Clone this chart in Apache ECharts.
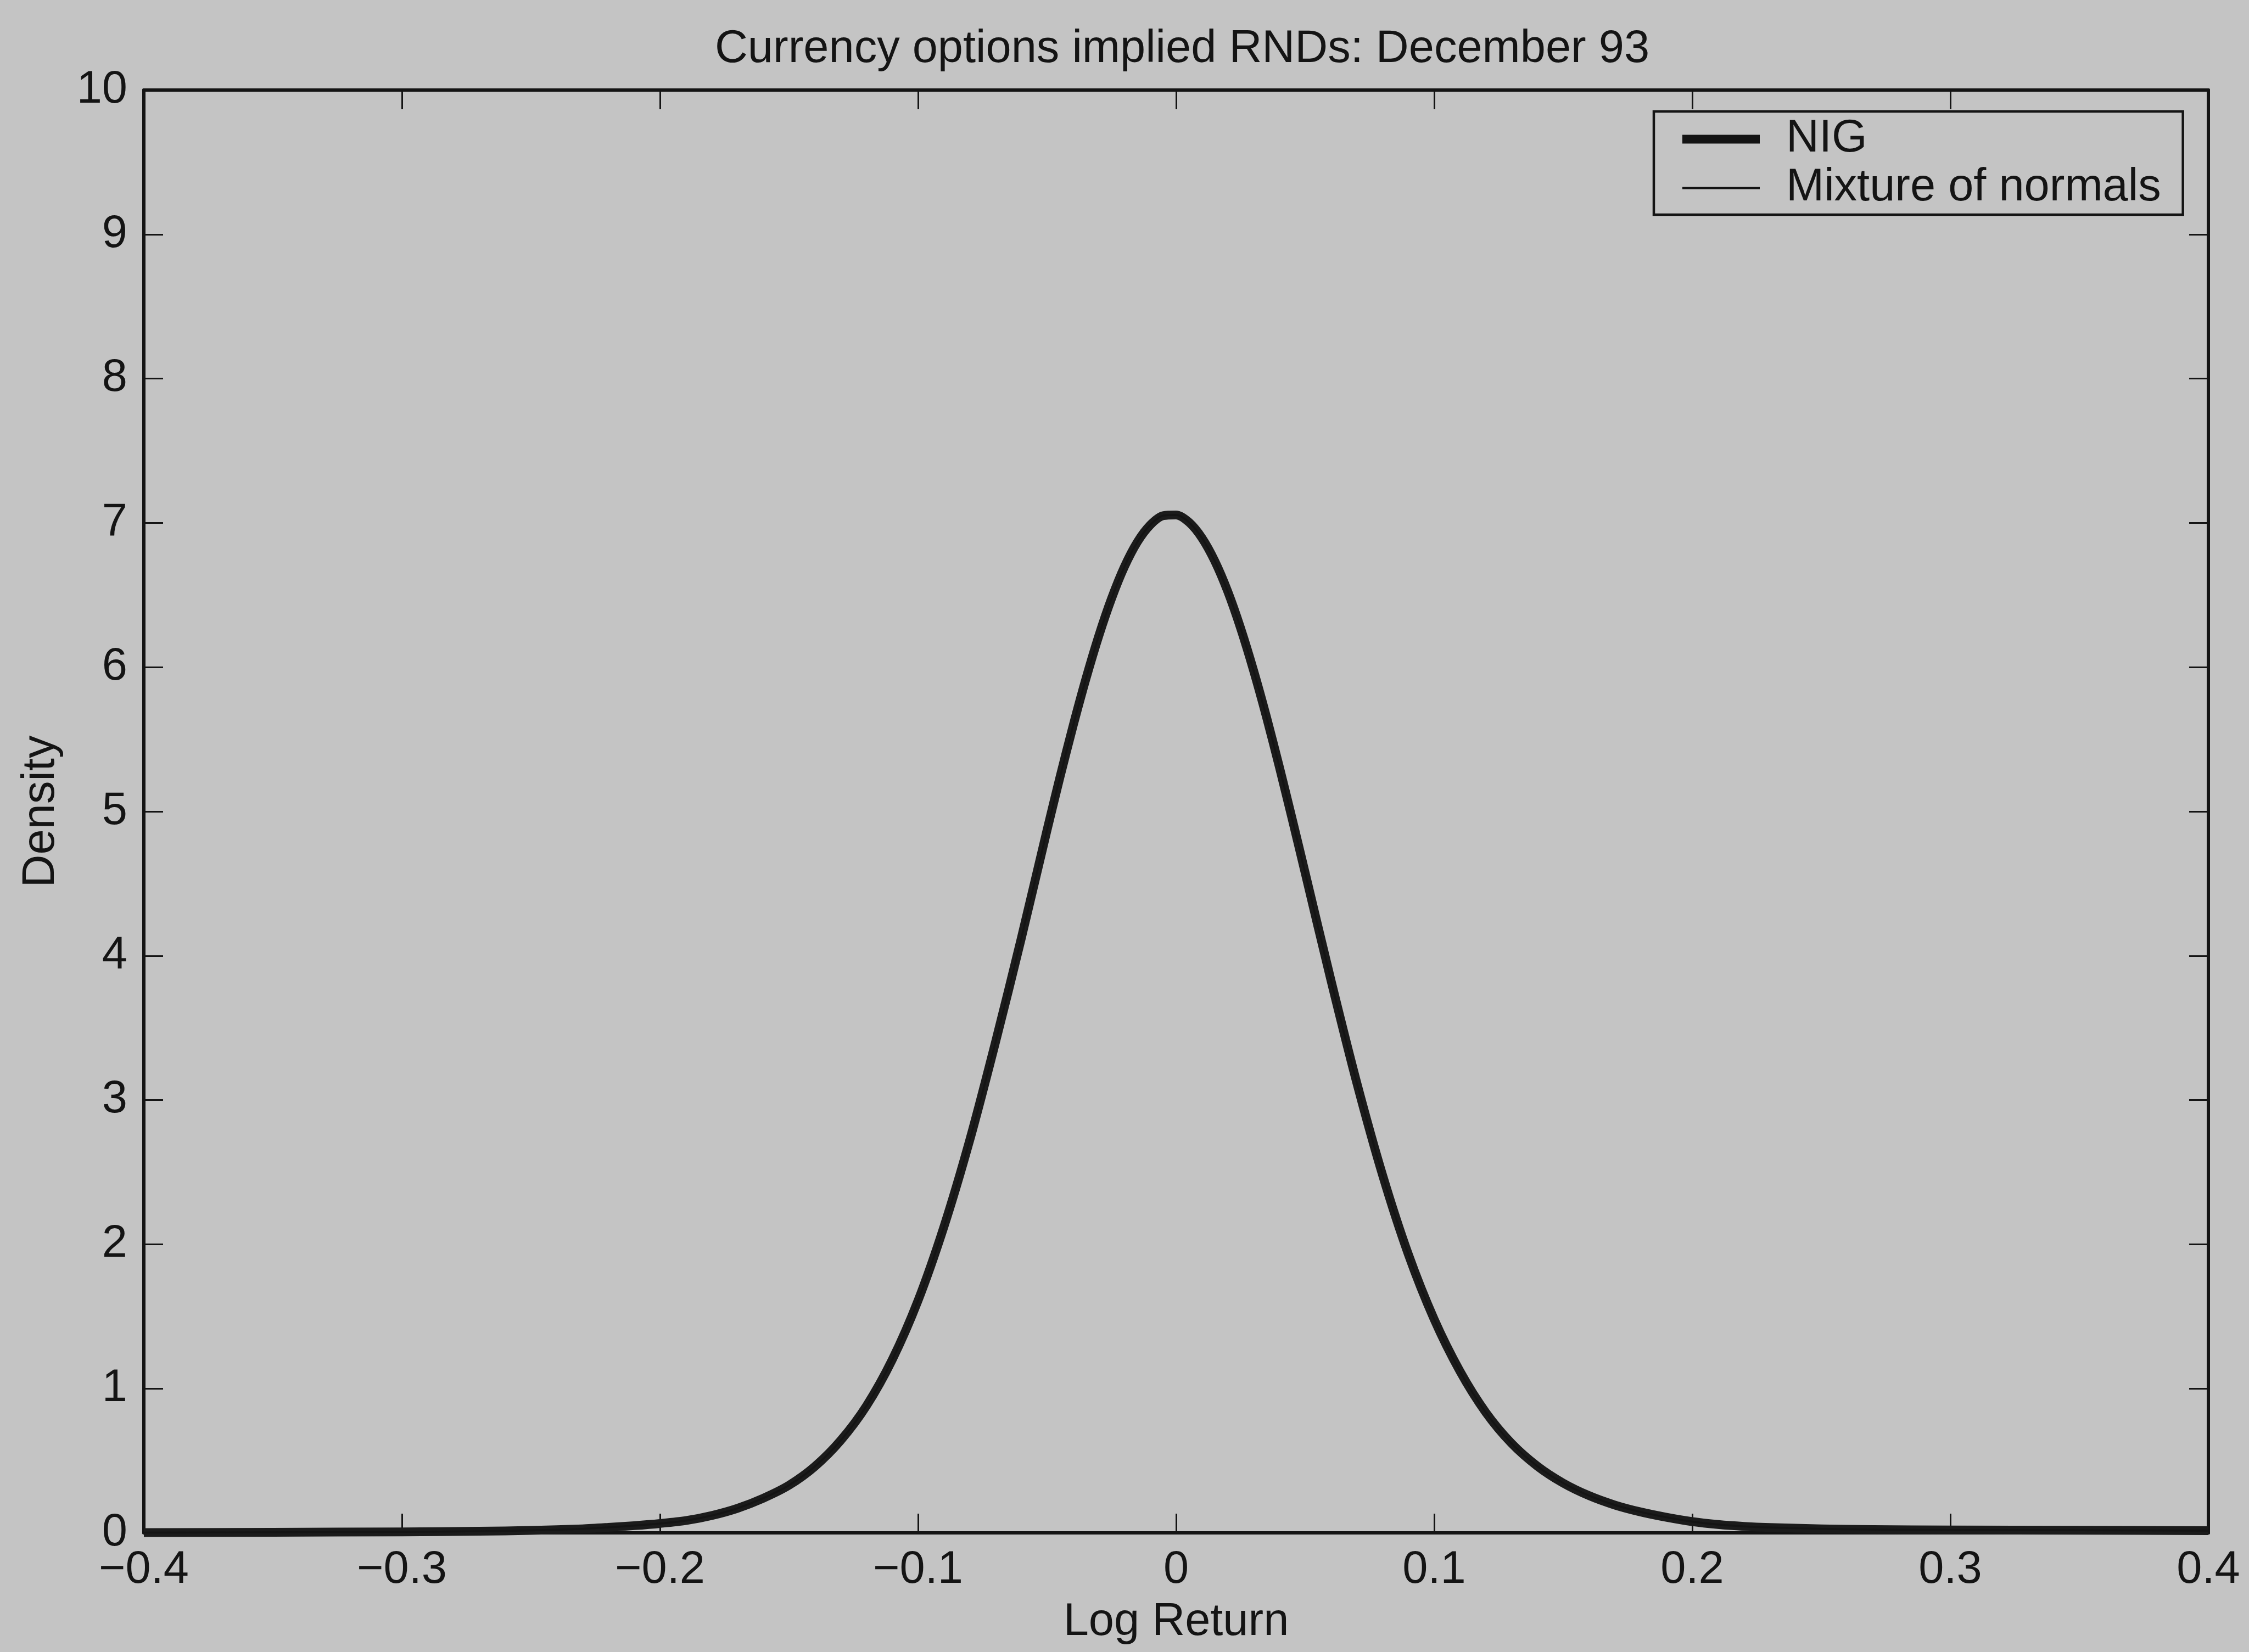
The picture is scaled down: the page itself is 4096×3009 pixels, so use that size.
<!DOCTYPE html>
<html>
<head>
<meta charset="utf-8">
<title>Currency options implied RNDs: December 93</title>
<script src="https://cdn.jsdelivr.net/npm/echarts@6/dist/echarts.min.js"></script>
<style>
  html, body { margin: 0; padding: 0; background: #c4c4c4; }
  #chart { width: 4096px; height: 3009px; }
</style>
</head>
<body>
<div id="chart"></div>
<script>
// Log-return grid on which both risk-neutral densities are evaluated
// (finer spacing around the mode, where the curvature is largest)
const logReturn = [
  -0.40, -0.35, -0.30, -0.27, -0.25, -0.23, -0.22, -0.21,
  -0.20, -0.19, -0.18, -0.17, -0.16, -0.15, -0.14, -0.13, -0.12, -0.11,
  -0.10, -0.09, -0.08, -0.07, -0.06,
  -0.050, -0.045, -0.040, -0.035, -0.030, -0.025, -0.020, -0.015, -0.010, -0.005,
   0.000,  0.005,  0.010,  0.015,  0.020,  0.025,  0.030,  0.035,  0.040,  0.045, 0.050,
   0.06,  0.07,  0.08,  0.09,
   0.10,  0.11,  0.12,  0.13,  0.14,  0.15,  0.16,  0.17,  0.18,  0.19,
   0.20,  0.21,  0.22,  0.23,  0.25,  0.27,  0.30,  0.35,  0.40
];

// Normal inverse Gaussian implied density
const nigDensity = [
  0.002, 0.004, 0.007, 0.011, 0.017, 0.028, 0.038, 0.050,
  0.065, 0.085, 0.12, 0.17, 0.24, 0.33, 0.46, 0.64, 0.88, 1.20,
  1.61, 2.12, 2.72, 3.40, 4.12,
  4.872, 5.238, 5.588, 5.916, 6.215, 6.477, 6.697, 6.868, 6.986, 7.050,
  7.055, 7.004, 6.896, 6.735, 6.525, 6.270, 5.978, 5.656, 5.309, 4.946, 4.575,
  3.83, 3.12, 2.48, 1.93,
  1.48, 1.12, 0.835, 0.62, 0.462, 0.345, 0.258, 0.193, 0.145, 0.108,
  0.078, 0.058, 0.045, 0.037, 0.028, 0.023, 0.020, 0.018, 0.015
];

// Mixture-of-normals implied density
const mixtureDensity = [
  0.002, 0.004, 0.007, 0.011, 0.017, 0.028, 0.038, 0.050,
  0.065, 0.085, 0.12, 0.17, 0.24, 0.33, 0.46, 0.64, 0.88, 1.20,
  1.61, 2.12, 2.72, 3.40, 4.12,
  4.872, 5.238, 5.588, 5.916, 6.215, 6.477, 6.697, 6.868, 6.986, 7.050,
  7.055, 7.004, 6.896, 6.735, 6.525, 6.270, 5.978, 5.656, 5.309, 4.946, 4.575,
  3.83, 3.12, 2.48, 1.93,
  1.48, 1.12, 0.835, 0.62, 0.462, 0.345, 0.258, 0.193, 0.145, 0.108,
  0.078, 0.058, 0.045, 0.037, 0.028, 0.023, 0.020, 0.018, 0.015
];

const seriesNames = ['NIG', 'Mixture of normals'];
const xRange = [-0.4, 0.4];
const xStep = 0.1;
const yRange = [0, 10];
const yStep = 1;

const FONT = 'Liberation Sans';
const FS = 83;
const INK = '#141414';
const BG = '#c4c4c4';

function fmtX(v) {
  if (Math.abs(v) < 1e-9) return '0';
  return (v < 0 ? '\u2212' : '') + Math.abs(v).toFixed(1);
}

const tickStyle = { show: true, inside: true, length: 35, lineStyle: { color: INK, width: 3 } };
const lineStyleAxis = { show: true, onZero: false, lineStyle: { color: INK, width: 6 } };

const chart = echarts.init(document.getElementById('chart'), null, { renderer: 'canvas' });

chart.setOption({
  animation: false,
  backgroundColor: BG,
  title: {
    text: 'Currency options implied RNDs: December 93',
    left: 2148,
    top: 44,
    textAlign: 'center',
    textStyle: { fontFamily: FONT, fontSize: FS, fontWeight: 'normal', color: INK }
  },
  grid: { left: 262, right: 74, top: 164, bottom: 217, containLabel: false },
  legend: {
    orient: 'vertical',
    left: 3012,
    top: 203,
    padding: [9, 40, 7, 44],
    itemWidth: 141,
    itemHeight: 20,
    itemGap: 6,
    borderColor: INK,
    borderWidth: 4.5,
    backgroundColor: BG,
    textStyle: { fontFamily: FONT, fontSize: FS, color: INK, lineHeight: 80, padding: [0, 0, 0, 43] },
    data: [
      { name: seriesNames[0], itemStyle: { opacity: 0 }, lineStyle: { width: 16, color: INK } },
      { name: seriesNames[1], itemStyle: { opacity: 0 }, lineStyle: { width: 4, color: INK } }
    ]
  },
  xAxis: [
    {
      type: 'value', position: 'bottom',
      min: xRange[0], max: xRange[1], interval: xStep,
      axisLine: lineStyleAxis, axisTick: tickStyle, splitLine: { show: false },
      axisLabel: { fontFamily: FONT, fontSize: FS, color: INK, margin: 27, formatter: fmtX },
      name: 'Log Return', nameLocation: 'middle', nameGap: 122,
      nameTextStyle: { fontFamily: FONT, fontSize: FS, color: INK }
    },
    {
      type: 'value', position: 'top',
      min: xRange[0], max: xRange[1], interval: xStep,
      axisLine: lineStyleAxis, axisTick: tickStyle, splitLine: { show: false },
      axisLabel: { show: false }
    }
  ],
  yAxis: [
    {
      type: 'value', position: 'left',
      min: yRange[0], max: yRange[1], interval: yStep,
      axisLine: lineStyleAxis, axisTick: tickStyle, splitLine: { show: false },
      axisLabel: { fontFamily: FONT, fontSize: FS, color: INK, margin: 30 },
      name: 'Density', nameLocation: 'middle', nameGap: 145, nameRotate: 90,
      nameTextStyle: { fontFamily: FONT, fontSize: FS, color: INK }
    },
    {
      type: 'value', position: 'right',
      min: yRange[0], max: yRange[1], interval: yStep,
      axisLine: lineStyleAxis, axisTick: tickStyle, splitLine: { show: false },
      axisLabel: { show: false }
    }
  ],
  series: [
    {
      name: seriesNames[0], type: 'line',
      xAxisIndex: 0, yAxisIndex: 0,
      data: logReturn.map((x, i) => [x, nigDensity[i]]),
      symbol: 'none', smooth: 0.3, clip: false, z: 2,
      itemStyle: { color: INK },
      lineStyle: { color: '#1b1b1b', width: 16, join: 'round', cap: 'butt' }
    },
    {
      name: seriesNames[1], type: 'line',
      xAxisIndex: 0, yAxisIndex: 0,
      data: logReturn.map((x, i) => [x, mixtureDensity[i]]),
      symbol: 'none', smooth: 0.3, clip: false, z: 3,
      itemStyle: { color: INK },
      lineStyle: { color: INK, width: 3.5, join: 'round' }
    }
  ]
});
</script>
</body>
</html>
